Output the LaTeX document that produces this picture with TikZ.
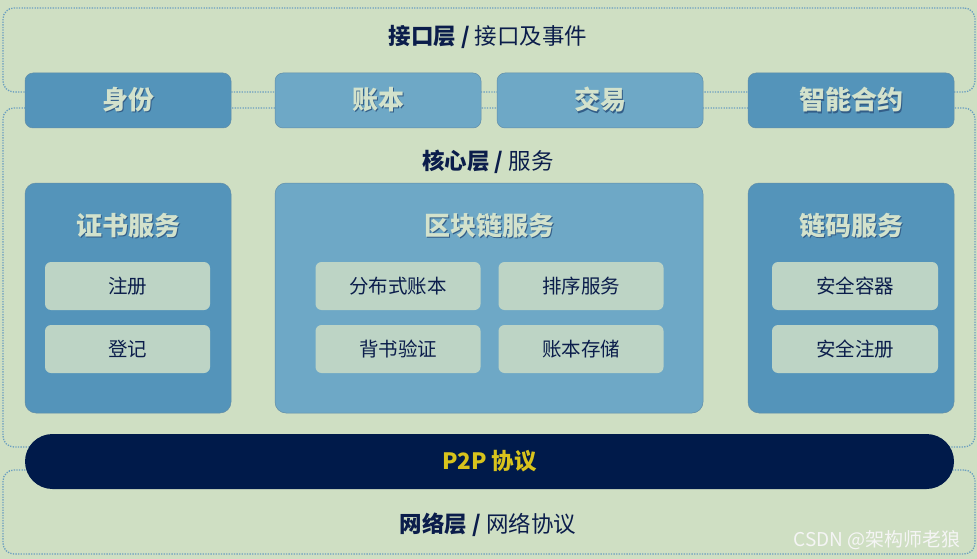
\documentclass[tikz,border=0pt]{standalone}
\usepackage{fontspec}
\setmainfont{Noto Sans CJK SC}
\usepackage{xcolor}
\usetikzlibrary{positioning}

\definecolor{bgGreen}{HTML}{CFDFC3}
\definecolor{dotBlue}{HTML}{6A9EC0}
\definecolor{inkNavy}{HTML}{0B1D4B}
\definecolor{darkBox}{HTML}{5494BA}
\definecolor{lightBox}{HTML}{6EA8C6}
\definecolor{itemFill}{HTML}{BDD4C5}
\definecolor{labelPale}{HTML}{D3E2CC}
\definecolor{barNavy}{HTML}{001A4A}
\definecolor{barYellow}{HTML}{D8C31C}

\newcommand\layerfont{\fontsize{22.5}{26}\selectfont}
\newcommand\boxfont{\fontsize{26}{30}\selectfont\bfseries}
\newcommand\itemfont{\fontsize{19.5}{23}\selectfont}
% pale label with a soft dark shadow behind it
\newcommand\paletext[1]{\rlap{\kern1.2pt\raisebox{-1.2pt}{\textcolor{inkNavy!45!darkBox}{#1}}}\textcolor{labelPale}{#1}}

\begin{document}
\begin{tikzpicture}[x=1pt, y=-1pt,
  layerbox/.style={draw=dotBlue, line width=1.3pt, dash pattern=on 1.3pt off 1.3pt, rounded corners=11pt, minimum width=972pt, inner sep=0pt},
  topbox/.style={rounded corners=8pt, draw=darkBox!70!gray, line width=0.5pt, minimum width=206pt, minimum height=55pt, inner sep=0pt, font=\boxfont},
  groupbox/.style={rounded corners=11pt, draw=darkBox!70!gray, line width=0.5pt, minimum height=230pt, inner sep=0pt},
  itembox/.style={rounded corners=6pt, fill=itemFill, minimum width=165pt, minimum height=48pt, inner sep=0pt, font=\itemfont, text=inkNavy},
  layertitle/.style={font=\layerfont, text=inkNavy, inner sep=0pt},
  grouptitle/.style={font=\boxfont, inner sep=0pt}
]
\useasboundingbox (0,0) rectangle (977,559);
\fill[bgGreen] (0,0) rectangle (977,559);

% layers
\node[layerbox, minimum height=84pt] (ifLayer) at (489,50) {};
\node[layerbox, minimum height=339pt] (coreLayer) at (489,277.5) {};
\node[layerbox, minimum height=84pt] (netLayer) at (489,512) {};

\node[layertitle] (ifTitle) at (488,37) {{\bfseries 接口层 /} 接口及事件};
\node[layertitle] (coreTitle) at (488,162) {{\bfseries 核心层 /} 服务};
\node[layertitle] (netTitle) at (488,525) {{\bfseries 网络层 /} 网络协议};

% interface boxes
\node[topbox, fill=darkBox] (identity) at (128,100.5) {\paletext{身份}};
\node[topbox, fill=lightBox] (ledger) at (378,100.5) {\paletext{账本}};
\node[topbox, fill=lightBox] (trade) at (600,100.5) {\paletext{交易}};
\node[topbox, fill=darkBox] (contract) at (851,100.5) {\paletext{智能合约}};

% core groups
\node[groupbox, fill=darkBox, minimum width=206pt] (cert) at (128,298) {};
\node[groupbox, fill=lightBox, minimum width=428pt] (chain) at (489,298) {};
\node[groupbox, fill=darkBox, minimum width=206pt] (code) at (851,298) {};

\node[grouptitle] (certTitle) at (128,226) {\paletext{证书服务}};
\node[grouptitle] (chainTitle) at (489,226) {\paletext{区块链服务}};
\node[grouptitle] (codeTitle) at (851,226) {\paletext{链码服务}};

\node[itembox] (register) at (127.5,286) {注册};
\node[itembox] (record) at (127.5,349) {登记};
\node[itembox] (distLedger) at (398,286) {分布式账本};
\node[itembox] (ordering) at (581,286) {排序服务};
\node[itembox] (endorse) at (398,349) {背书验证};
\node[itembox] (storage) at (581,349) {账本存储};
\node[itembox, minimum width=166pt] (container) at (855,286) {安全容器};
\node[itembox, minimum width=166pt] (secReg) at (855,349) {安全注册};

% network bar
\node[fill=barNavy, rounded corners=27.5pt, minimum width=929pt, minimum height=55pt, inner sep=0pt,
  font=\fontsize{22.5}{26}\selectfont\bfseries, text=barYellow] (p2p) at (489.5,461.5) {P2P 协议};

\node[font=\fontsize{19}{22}\selectfont, text=white!92!gray, inner sep=0pt] (mark) at (877,540) {CSDN @架构师老狼};
\end{tikzpicture}
\end{document}
